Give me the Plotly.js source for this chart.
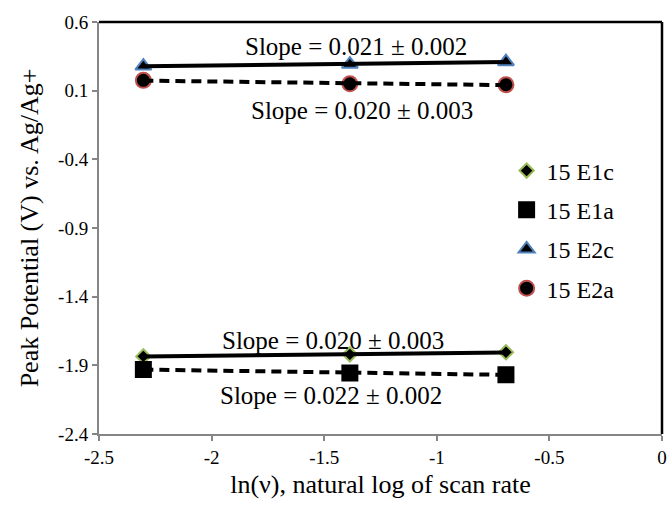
<!DOCTYPE html>
<html>
<head>
<meta charset="utf-8">
<script src="https://cdn.plot.ly/plotly-3.0.1.min.js"></script>
<style>html,body{margin:0;padding:0;background:#fff;}#chart{width:671px;height:506px;}</style>
</head>
<body>
<div id="chart"></div>
<script>
// ---- data ----
const scanLn = [-2.303, -1.386, -0.693];           // ln(scan rate)
const seriesNames = ['15 E1c', '15 E1a', '15 E2c', '15 E2a'];
const e1c = [-1.835, -1.820, -1.805];
const e1a = [-1.930, -1.955, -1.968];
const e2c = [0.279, 0.293, 0.311];
const e2a = [0.175, 0.150, 0.143];
const slopeLabels = ['Slope = 0.020 ± 0.003', 'Slope = 0.022 ± 0.002', 'Slope = 0.021 ± 0.002', 'Slope = 0.020 ± 0.003'];
const slopeLabelX = [-1.46, -1.47, -1.36, -1.33];
const slopeLabelY = [-1.718, -2.12, 0.418, -0.043];
const xTickVals = [-2.5, -2, -1.5, -1, -0.5, 0];
const xTickText = ['-2.5', '-2', '-1.5', '-1', '-0.5', '0'];
const yTickVals = [0.6, 0.1, -0.4, -0.9, -1.4, -1.9, -2.4];
const yTickText = ['0.6', '0.1', '-0.4', '-0.9', '-1.4', '-1.9', '-2.4'];

const SERIF = '"Liberation Serif", "Times New Roman", Times, serif';

function fit(xs, ys) {
  const n = xs.length;
  const mx = xs.reduce((a, b) => a + b, 0) / n;
  const my = ys.reduce((a, b) => a + b, 0) / n;
  let sxy = 0, sxx = 0;
  for (let i = 0; i < n; i++) { sxy += (xs[i] - mx) * (ys[i] - my); sxx += (xs[i] - mx) ** 2; }
  const m = sxy / sxx, b = my - m * mx;
  const x0 = Math.min(...xs), x1 = Math.max(...xs);
  return { x: [x0, x1], y: [m * x0 + b, m * x1 + b] };
}

const allY = [e1c, e1a, e2c, e2a];
const symbols = ['diamond', 'square', 'triangle-up', 'circle'];
const sizes = [11, 15, 14, 15];
const outline = ['#9BBB59', '#000000', '#4F81BD', '#C0504D'];
const dashes = ['solid', '10px,6px', 'solid', '10px,6px'];

const traces = [];
allY.forEach((ys, i) => {
  traces.push({
    x: scanLn, y: ys, type: 'scatter', mode: 'markers', name: seriesNames[i],
    legendgroup: 'g' + i,
    marker: { symbol: symbols[i], size: sizes[i], color: '#000000', line: { color: outline[i], width: 2 } }
  });
});
allY.forEach((ys, i) => {
  const f = fit(scanLn, ys);
  traces.push({
    x: f.x, y: f.y, type: 'scatter', mode: 'lines', showlegend: false, hoverinfo: 'skip',
    line: { color: '#000000', width: 4, dash: dashes[i] }
  });
});

const annotations = slopeLabels.map((t, i) => ({
  x: slopeLabelX[i], y: slopeLabelY[i], xref: 'x', yref: 'y', text: t, showarrow: false,
  font: { family: SERIF, size: 25, color: '#000' }
}));

const layout = {
  width: 671, height: 506,
  margin: { l: 99, r: 9, t: 22, b: 72, pad: 0 },
  paper_bgcolor: '#ffffff', plot_bgcolor: '#ffffff',
  font: { family: SERIF, color: '#000' },
  showlegend: true,
  legend: {
    x: 0.724, y: 0.693, xanchor: 'left', yanchor: 'top',
    font: { family: SERIF, size: 24, color: '#000' },
    bgcolor: 'rgba(0,0,0,0)', tracegroupgap: 5, itemwidth: 30
  },
  xaxis: {
    range: [-2.5, 0], tickvals: xTickVals, ticktext: xTickText,
    showgrid: false, zeroline: false, showline: true, linecolor: '#868686', linewidth: 2,
    ticks: 'outside', ticklen: 5, tickwidth: 2, tickcolor: '#868686',
    tickfont: { size: 19, family: SERIF, color: '#000' },
    title: { text: 'ln(ν), natural log of scan rate', font: { size: 26, family: SERIF, color: '#000' }, standoff: 8 }
  },
  yaxis: {
    range: [-2.4, 0.6], tickvals: yTickVals, ticktext: yTickText,
    showgrid: false, zeroline: false, showline: true, linecolor: '#868686', linewidth: 2,
    ticks: 'outside', ticklen: 5, tickwidth: 2, tickcolor: '#868686',
    tickfont: { size: 19, family: SERIF, color: '#000' },
    title: { text: 'Peak Potential (V) vs. Ag/Ag+', font: { size: 26, family: SERIF, color: '#000' }, standoff: 12 }
  },
  shapes: [
    { type: 'line', xref: 'paper', yref: 'paper', x0: 0, x1: 1, y0: 1, y1: 1, line: { color: '#000', width: 2.5 } },
    { type: 'line', xref: 'paper', yref: 'paper', x0: 1, x1: 1, y0: 0, y1: 1, line: { color: '#000', width: 2.5 } }
  ],
  annotations: annotations
};

Plotly.newPlot('chart', traces, layout, { displayModeBar: false, staticPlot: true });
</script>
</body>
</html>
